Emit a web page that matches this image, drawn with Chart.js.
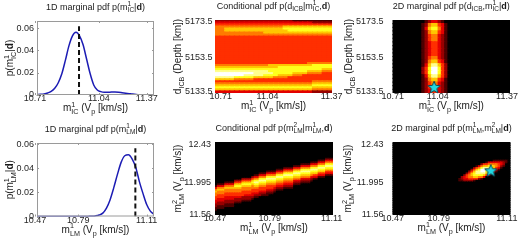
<!DOCTYPE html>
<html>
<head>
<meta charset="utf-8">
<script src="https://cdn.jsdelivr.net/npm/chart.js@4.4.0/dist/chart.umd.min.js"></script>
<style>
  html, body { margin: 0; padding: 0; background: #fff; }
  #wrap { position: relative; width: 520px; height: 242px; }
  #wrap canvas { position: absolute; left: 0; top: 0; }
</style>
</head>
<body>
<div id="wrap">
  <canvas id="tl" width="520" height="242"></canvas>
  <canvas id="tm" width="520" height="242"></canvas>
  <canvas id="tr" width="520" height="242"></canvas>
  <canvas id="bl" width="520" height="242"></canvas>
  <canvas id="bm" width="520" height="242"></canvas>
  <canvas id="br" width="520" height="242"></canvas>
</div>
<script>
// ---- data: 1D marginal of m1_IC
const icX = [10.71, 10.73, 10.75, 10.77, 10.79, 10.81, 10.83, 10.85, 10.87, 10.89, 10.91, 10.93, 10.95, 10.97, 10.99, 11.01, 11.03,
             11.05, 11.07, 11.09, 11.11, 11.13, 11.15, 11.17, 11.19, 11.21, 11.23, 11.25, 11.27, 11.29, 11.31, 11.33, 11.35, 11.37];
const icPdf = [0.0003, 0.0006, 0.001, 0.0018, 0.0032, 0.006, 0.011, 0.019, 0.031, 0.044, 0.053, 0.0562, 0.053, 0.045, 0.032, 0.019, 0.009,
               0.0045, 0.003, 0.0025, 0.0025, 0.0026, 0.0026, 0.0024, 0.002, 0.0016, 0.0012, 0.0008, 0.0005, 0.0003, 0.0002, 0.0001, 0.00005, 0];
const icTrue = 10.947, icTrueTop = 0.0616;
const icRange = [10.71, 11.37];
const icTickLabels = ['10.71', '11.04', '11.37'];
const depthRange = [5133.5, 5173.5];
const depthTickLabels = ['5133.5', '5153.5', '5173.5'];

// ---- data: 1D marginal of m1_LM
const lmX = [10.47, 10.49, 10.51, 10.53, 10.55, 10.57, 10.59, 10.61, 10.63, 10.65, 10.67, 10.69, 10.71, 10.73, 10.75, 10.77, 10.79,
             10.81, 10.83, 10.85, 10.87, 10.89, 10.91, 10.93, 10.95, 10.97, 10.99, 11.01, 11.03, 11.05, 11.07, 11.09, 11.11];
const lmPdf = [0, 0, 0, 0, 0, 0, 0, 0, 0, 0, 0, 0, 0, 0, 0.0001, 0.0002, 0.0005,
               0.0012, 0.0028, 0.007, 0.014, 0.024, 0.035, 0.045, 0.0505, 0.0513, 0.048, 0.041, 0.029, 0.019, 0.01, 0.0045, 0.0018];
const lmTrue = 11.008, lmTrueTop = 0.0567;
const lmRange = [10.47, 11.11];
const lmTickLabels = ['10.47', '10.79', '11.11'];
const lm2Range = [11.56, 12.43];
const lm2TickLabels = ['11.56', '11.995', '12.43'];

const pdfTickVals = [0, 0.02, 0.04, 0.06];
const pdfTickLabels = ['0', '0.02', '0.04', '0.06'];

// ---- heat maps, rows from top to bottom, each digit = intensity 0..9 (missing tail = 0)
const condIcCols = 24;
const condIcRows = [
  '222222222222222211111111', '333333333333333333332222', '444444444444444444444444',
  '555555555555556666666666', '556666666666667777777777', '556666666666666777777777',
  '555555555566666666666666', '555555555555555555555555', '444444444444444444444444',
  '444444444444444444444444', '444444444444444444444444', '444444444444444444444444',
  '444444444444444444444444', '444444444444444444444444', '444444444444444444444444',
  '444444444444444444444444', '444444444444444444444444', '444444444444444444444444',
  '444444444444444444444444', '444444444444444444444444', '444444444444444444444444',
  '444444444444444444455555', '555555555556666666667777', '666666666666677777777777',
  '777777777777777777777766', '888888888887777777766655', '999999998888777766655544',
  '999999888877766655444444', '888877776666555444444444', '666655554444444444444444',
  '444444444444444444445555', '555555555555555555556666', '666666666666666666667777',
  '777777777777777777776666', '666666666666666666665555', '333333333333333333332222'
];
const margIcCols = 36;
const margIcRows = [
  '00000000001233210', '00000000012566431', '00000000013677531', '00000000012566431', '00000000012455321',
  '00000000012455321', '00000000012344321', '00000000012344321', '00000000012344321', '00000000012344321',
  '00000000012455321', '00000000012566431', '00000000013688642', '00000000024799742', '00000000024799742',
  '00000000013688642', '00000000012566431', '00000000012455321', '00000000012455321', '00000000012344321'
];
const condLmCols = 48;
const condLmRows = [
  '', '', '', '', '', '', '', '', '',
  '000000000000000000000000000000000000000000000111',
  '000000000000000000000000000000000000000000111333',
  '000000000000000000000000000000000000000111333555',
  '000000000000000000000000000000000001111333555777',
  '000000000000000000000000000000001113333555777888',
  '000000000000000000000000000011113335555777888777',
  '000000000000000000000000011133335557777888777666',
  '000000000000000000000111133355557778888777666444',
  '000000000000000000111333355577778887777666444333',
  '000000000000000011333555577788887776666544333111',
  '000000000000000233555777788877776665555333111',
  '000000000002222455777888877766665553333211',
  '0000000022244446778887777666555533322221',
  '000011114446666788777666655544442221111',
  '01113333666777767766655554443333111',
  '13335555777666656655544443332222',
  '35556666666555555544444432221111',
  '5666555555555554444443332111',
  '6555555555544444443332221',
  '555544444444444333222111',
  '5444444444443333222111',
  '444433333332222211',
  '4333333322222221',
  '333322222221111',
  '32222222111',
  '22221111',
  '21111111',
  '1111',
  '1',
  '', ''
];
const margLmCols = 48;
const margLmRows = [
  '', '', '', '', '', '', '', '', '', '',
  '00000000000000000000000000000000000000000111111',
  '00000000000000000000000000000000000000133333321',
  '00000000000000000000000000000000000024455554320',
  '00000000000000000000000000000000001356677654210',
  '00000000000000000000000000000000024578887643100',
  '00000000000000000000000000000000246799886531000',
  '00000000000000000000000000000002468899775310000',
  '00000000000000000000000000000024678888653000000',
  '00000000000000000000000000000245677776420000000',
  '00000000000000000000000000002345566553000000000',
  '00000000000000000000000000012334444210000000000',
  '00000000000000000000000000011222210000000000000',
  '', '', '', '', '', '', '', '', '', '', '', '', '', '', '', '', '', ''
];
const icStar = {x: 10.944, y: 5136.8};
const lmStar = {x: 11.003, y: 12.093};

// tick positions (labels in the figure are not evenly placed)
const tlTickPos = [10.699, 11.059, 11.329];
const tmTickPos = [10.742, 11.006, 11.368];
const trTickPos = [10.712, 10.964, 11.353];
const blTickPos = [10.459, 10.696, 11.07];
const bmTickPos = [10.47, 10.767, 11.103];
const brTickPos = [10.472, 10.721, 11.09];
const depthTickPos = [5134.2, 5152.7, 5172.9];
const lm2TickPos = [11.56, 11.953, 12.403];

const FAM = '"Liberation Sans", Arial, Helvetica, sans-serif';

// matlab 'hot' colormap
function hot(v) {
  const cl = t => Math.max(0, Math.min(1, t));
  const r = cl(v / 0.375), g = cl((v - 0.375) / 0.375), b = cl((v - 0.75) / 0.25);
  return 'rgb(' + Math.round(r * 255) + ',' + Math.round(g * 255) + ',' + Math.round(b * 255) + ')';
}

function cells(rows, ncols, xr, yr) {
  const dx = (xr[1] - xr[0]) / ncols, dy = (yr[1] - yr[0]) / rows.length;
  const out = [];
  rows.forEach((row, i) => {
    row = row.padEnd(ncols, '0');
    const yTop = yr[1] - i * dy;
    for (let j = 0; j < ncols; j++) {
      out.push({x: xr[0] + (j + 0.5) * dx, y: [yTop - dy, yTop], v: +row[j] / 9});
    }
  });
  return out;
}

function starImage(r) {
  const c = document.createElement('canvas');
  const s = Math.ceil(r * 2 + 3);
  c.width = c.height = s;
  const g = c.getContext('2d');
  g.translate(s / 2, s / 2 + 0.7);
  g.beginPath();
  for (let k = 0; k < 10; k++) {
    const rr = k % 2 ? r * 0.45 : r;
    const a = -Math.PI / 2 + k * Math.PI / 5;
    g.lineTo(rr * Math.cos(a), rr * Math.sin(a));
  }
  g.closePath();
  g.fillStyle = '#22d8e2';
  g.fill();
  g.strokeStyle = '#0b4a55';
  g.lineWidth = 1;
  g.stroke();
  return c;
}

// small tex-like text: ^{sup} _{sub} *{bold}
function parseRich(s) {
  const out = [];
  let i = 0, buf = '';
  while (i < s.length) {
    const c = s[i];
    if ((c === '^' || c === '_' || c === '*') && s[i + 1] === '{') {
      if (buf) { out.push({t: buf, k: ''}); buf = ''; }
      const j = s.indexOf('}', i);
      out.push({t: s.slice(i + 2, j), k: c});
      i = j + 1;
    } else { buf += c; i++; }
  }
  if (buf) out.push({t: buf, k: ''});
  return out;
}

function drawRich(ctx, s, x, y, size, rot) {
  const parts = parseRich(s);
  const runs = [];
  let pos = 0;
  const fontOf = p => (p.k === '*' ? 'bold ' : '') + (p.k === '^' || p.k === '_' ? size * 0.72 : size) + 'px ' + FAM;
  const dyOf = p => p.k === '^' ? -size * 0.42 : p.k === '_' ? size * 0.32 : 0;
  for (let n = 0; n < parts.length; n++) {
    const p = parts[n], q = parts[n + 1];
    ctx.font = fontOf(p);
    const w = ctx.measureText(p.t).width;
    runs.push({t: p.t, font: ctx.font, x: pos, dy: dyOf(p)});
    if (q && ((p.k === '^' && q.k === '_') || (p.k === '_' && q.k === '^'))) {
      ctx.font = fontOf(q);
      const w2 = ctx.measureText(q.t).width;
      runs.push({t: q.t, font: ctx.font, x: pos, dy: dyOf(q)});
      pos += Math.max(w, w2);
      n++;
    } else {
      pos += w;
    }
  }
  ctx.save();
  ctx.translate(x, y);
  ctx.rotate(rot);
  ctx.fillStyle = '#1a1a1a';
  ctx.textBaseline = 'alphabetic';
  ctx.textAlign = 'left';
  runs.forEach(r => {
    ctx.font = r.font;
    ctx.fillText(r.t, r.x - pos / 2, r.dy);
  });
  ctx.restore();
}

const panelText = {
  id: 'panelText',
  afterDraw(chart, args, opts) {
    const a = chart.chartArea, ctx = chart.ctx;
    if (opts.box) {
      ctx.save();
      ctx.strokeStyle = '#9a9a9a';
      ctx.lineWidth = 1;
      ctx.strokeRect(a.left + 0.5, a.top + 0.5, a.right - a.left - 1, a.bottom - a.top - 1);
      ctx.beginPath();
      const sx = chart.scales.x, sy = chart.scales.y;
      sx.ticks.forEach(t => {
        const px = Math.round(sx.getPixelForValue(t.value)) + 0.5;
        ctx.moveTo(px, a.bottom); ctx.lineTo(px, a.bottom - 2);
        ctx.moveTo(px, a.top); ctx.lineTo(px, a.top + 2);
      });
      sy.ticks.forEach(t => {
        const py = Math.round(sy.getPixelForValue(t.value)) + 0.5;
        ctx.moveTo(a.left, py); ctx.lineTo(a.left + 2, py);
        ctx.moveTo(a.right, py); ctx.lineTo(a.right - 2, py);
      });
      ctx.stroke();
      ctx.restore();
    }
    const cx = (a.left + a.right) / 2;
    drawRich(ctx, opts.title, cx, a.top - 11.5, 9, 0);
    drawRich(ctx, opts.xLabel, cx, a.bottom + 16, 10, 0);
    drawRich(ctx, opts.yLabel, opts.yLabelX, (a.top + a.bottom) / 2, 10, -Math.PI / 2);
  }
};

const X_BAND = 14;   // height reserved under each panel for tick labels

function axis(range, vals, labels, pad, size, horiz) {
  return {
    type: 'linear', min: range[0], max: range[1], bounds: 'data', offset: false,
    grid: {display: false, drawTicks: false},
    border: {display: false},
    afterBuildTicks: a => { a.ticks = vals.map(v => ({value: v})); },
    afterFit: s => { if (horiz) s.height = size; else s.width = size; },
    ticks: {autoSkip: false, maxRotation: 0, minRotation: 0, padding: pad, color: '#262626',
            font: {family: FAM, size: 9}, callback: (v, i) => labels[i]}
  };
}

function baseOptions(area, yBand, text, xAx, yAx) {
  return {
    responsive: false,
    animation: false,
    events: [],
    layout: {autoPadding: false, padding: {left: area[0] - yBand, top: area[1], right: 520 - area[2], bottom: 242 - area[3] - X_BAND}},
    scales: {x: xAx, y: yAx},
    plugins: {legend: {display: false}, tooltip: {enabled: false}, title: {display: false}, panelText: text}
  };
}

function pdfChart(id, area, xs, ys, truth, top, range, tickPos, tickLabels, ymax, text) {
  const yBand = 34;
  new Chart(document.getElementById(id), {
    type: 'line',
    data: {
      datasets: [
        {data: [{x: truth, y: 0}, {x: truth, y: top}], borderColor: '#111', borderWidth: 2, borderDash: [5, 3],
         pointRadius: 0},
        {data: xs.map((x, i) => ({x, y: ys[i]})), borderColor: '#1c1cb4', borderWidth: 1.5, pointRadius: 0,
         cubicInterpolationMode: 'monotone'}
      ]
    },
    options: baseOptions(area, yBand, text,
      axis(range, tickPos, tickLabels, -1.5, X_BAND, true),
      axis([0, ymax], pdfTickVals, pdfTickLabels, 3, yBand, false)),
    plugins: [panelText]
  });
}

function heatChart(id, area, rows, ncols, xr, yr, xPos, xLabels, yPos, yLabels, yPad, star, text) {
  const yBand = 46;
  const datasets = [];
  if (star) {
    datasets.push({type: 'scatter', data: [star], pointStyle: starImage(6.5), pointRadius: 6.5, clip: false});
  }
  datasets.push({
    data: cells(rows, ncols, xr, yr),
    backgroundColor: c => c.raw ? hot(c.raw.v) : '#000',
    borderWidth: 0, barPercentage: 1, categoryPercentage: 1, inflateAmount: 0.6, grouped: false
  });
  new Chart(document.getElementById(id), {
    type: 'bar',
    data: {datasets},
    options: baseOptions(area, yBand, text,
      axis(xr, xPos, xLabels, -1.5, X_BAND, true),
      axis(yr, yPos, yLabels, yPad, yBand, false)),
    plugins: [panelText]
  });
}

pdfChart('tl', [37, 21, 154, 95], icX, icPdf, icTrue, icTrueTop, icRange, tlTickPos, icTickLabels, 0.0663, {
  box: true, title: '1D marginal pdf p(m^{1}_{IC}|*{d})', xLabel: 'm^{1}_{IC} (V_{p} [km/s])',
  yLabel: 'p(m^{1}_{IC}|*{d})', yLabelX: 13
});
heatChart('tm', [215, 20, 332, 93], condIcRows, condIcCols, icRange, depthRange, tmTickPos, icTickLabels,
  depthTickPos, depthTickLabels, 2.5, null, {
  title: 'Conditional pdf p(d_{ICB}|m^{1}_{IC},*{d})', xLabel: 'm^{1}_{IC} (V_{p} [km/s])',
  yLabel: 'd_{ICB} (Depth [km])', yLabelX: 181
});
heatChart('tr', [392.5, 20, 510, 93], margIcRows, margIcCols, icRange, depthRange, trTickPos, icTickLabels,
  depthTickPos, depthTickLabels, 9, icStar, {
  title: '2D marginal pdf p(d_{ICB},m^{1}_{IC}|*{d})', xLabel: 'm^{1}_{IC} (V_{p} [km/s])',
  yLabel: 'd_{ICB} (Depth [km])', yLabelX: 352
});
pdfChart('bl', [37, 143, 154, 216.5], lmX, lmPdf, lmTrue, lmTrueTop, lmRange, blTickPos, lmTickLabels, 0.0611, {
  box: true, title: '1D marginal pdf p(m^{1}_{LM}|*{d})', xLabel: 'm^{1}_{LM} (V_{p} [km/s])',
  yLabel: 'p(m^{1}_{LM}|*{d})', yLabelX: 13
});
heatChart('bm', [215, 142, 333, 215], condLmRows, condLmCols, lmRange, lm2Range, bmTickPos, lmTickLabels,
  lm2TickPos, lm2TickLabels, 4, null, {
  title: 'Conditional pdf p(m^{2}_{LM}|m^{1}_{LM},*{d})', xLabel: 'm^{1}_{LM} (V_{p} [km/s])',
  yLabel: 'm^{2}_{LM} (V_{p} [km/s])', yLabelX: 181
});
heatChart('br', [392.5, 142, 510.5, 215], margLmRows, margLmCols, lmRange, lm2Range, brTickPos, lmTickLabels,
  lm2TickPos, lm2TickLabels, 9, lmStar, {
  title: '2D marginal pdf p(m^{1}_{LM},m^{2}_{LM}|*{d})', xLabel: 'm^{1}_{LM} (V_{p} [km/s])',
  yLabel: 'm^{2}_{LM} (V_{p} [km/s])', yLabelX: 351
});
</script>
</body>
</html>
